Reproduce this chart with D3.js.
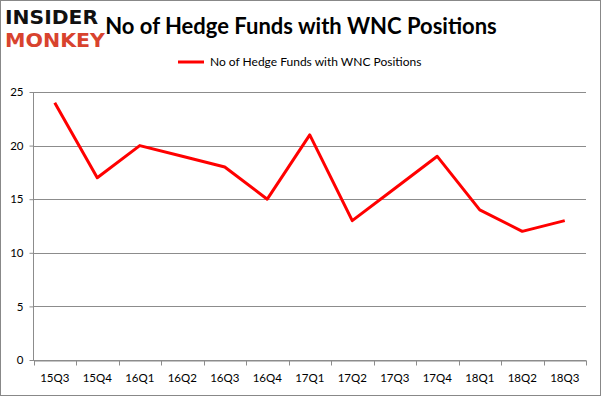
<!DOCTYPE html>
<html><head><meta charset="utf-8">
<script src="https://cdn.jsdelivr.net/npm/d3@7"></script>
<style>body{margin:0;background:#fff}svg{display:block}</style>
</head><body>
<script>
const categories = ["15Q3","15Q4","16Q1","16Q2","16Q3","16Q4","17Q1","17Q2","17Q3","17Q4","18Q1","18Q2","18Q3"];
const values = [24,17,20,19,18,15,21,13,16,19,14,12,13];
const yTicks = [0,5,10,15,20,25];
const seriesName = "No of Hedge Funds with WNC Positions";
const titleText = "No of Hedge Funds with WNC Positions";

const W = 601, H = 396;
const svg = d3.select("body").append("svg").attr("width", W).attr("height", H);
svg.append("rect").attr("x",0.5).attr("y",0.5).attr("width",W-1).attr("height",H-1).attr("fill","#fff").attr("stroke","#888");

const x = d3.scaleBand().domain(categories).range([33.5, 586]);
const y = d3.scaleLinear().domain([0,25]).range([360, 92]);
const font = "Lato, 'Open Sans', sans-serif";

// gridlines
svg.append("g").selectAll("line").data(yTicks).join("line")
  .attr("x1",33).attr("x2",586).attr("y1",d=>Math.round(y(d))+0.5).attr("y2",d=>Math.round(y(d))+0.5)
  .attr("stroke","#8c8c8c").attr("stroke-width",1);

// y axis
const ya = svg.append("g").attr("transform","translate(33.5,0)").call(d3.axisLeft(y).tickValues(yTicks).tickSize(4).tickPadding(6));
ya.select(".domain").attr("stroke","#8c8c8c").attr("d","M0,92V360");
ya.selectAll(".tick line").attr("stroke","#8c8c8c");
ya.selectAll("text").attr("font-family",font).attr("font-size",11.5).attr("fill","#000");

// x axis
const xa = svg.append("g").attr("transform","translate(0,360.5)").call(d3.axisBottom(x).tickSize(0).tickPadding(13));
xa.select(".domain").attr("stroke","#8c8c8c");
xa.selectAll("text").attr("font-family",font).attr("font-size",11.5).attr("fill","#000");
xa.selectAll(".xt").data(categories.concat(["__end"])).join("line").attr("class","xt")
  .attr("x1",(d,i)=>Math.round(33.5 + i*x.step())+0.5).attr("x2",(d,i)=>Math.round(33.5 + i*x.step())+0.5)
  .attr("y1",0).attr("y2",5).attr("stroke","#8c8c8c");

// line
const line = d3.line().x((d,i)=>x(categories[i])+x.bandwidth()/2).y(d=>y(d));
svg.append("path").datum(values).attr("d",line).attr("fill","none").attr("stroke","#ff0000").attr("stroke-width",3).attr("stroke-linejoin","round");

// title
svg.append("text").attr("x",301).attr("y",34).attr("text-anchor","middle")
  .attr("font-family",font).attr("font-weight","bold").attr("font-size",22).attr("fill","#000").text(titleText);

// legend
svg.append("line").attr("x1",178).attr("x2",204).attr("y1",62).attr("y2",62).attr("stroke","#ff0000").attr("stroke-width",3);
svg.append("text").attr("x",210).attr("y",66).attr("font-family",font).attr("font-size",12).attr("fill","#000").text(seriesName);

// logo
svg.append("text").attr("x",5).attr("y",24).attr("font-family","'DejaVu Sans', sans-serif").attr("font-weight","bold")
  .attr("font-size",19).attr("textLength",93).attr("lengthAdjust","spacingAndGlyphs").attr("fill","#111").text("INSIDER");
svg.append("text").attr("x",5).attr("y",47).attr("font-family","'DejaVu Sans', sans-serif").attr("font-weight","bold")
  .attr("font-size",20).attr("textLength",100).attr("lengthAdjust","spacingAndGlyphs").attr("fill","#d8432e").text("MONKEY");
</script>
</body></html>
